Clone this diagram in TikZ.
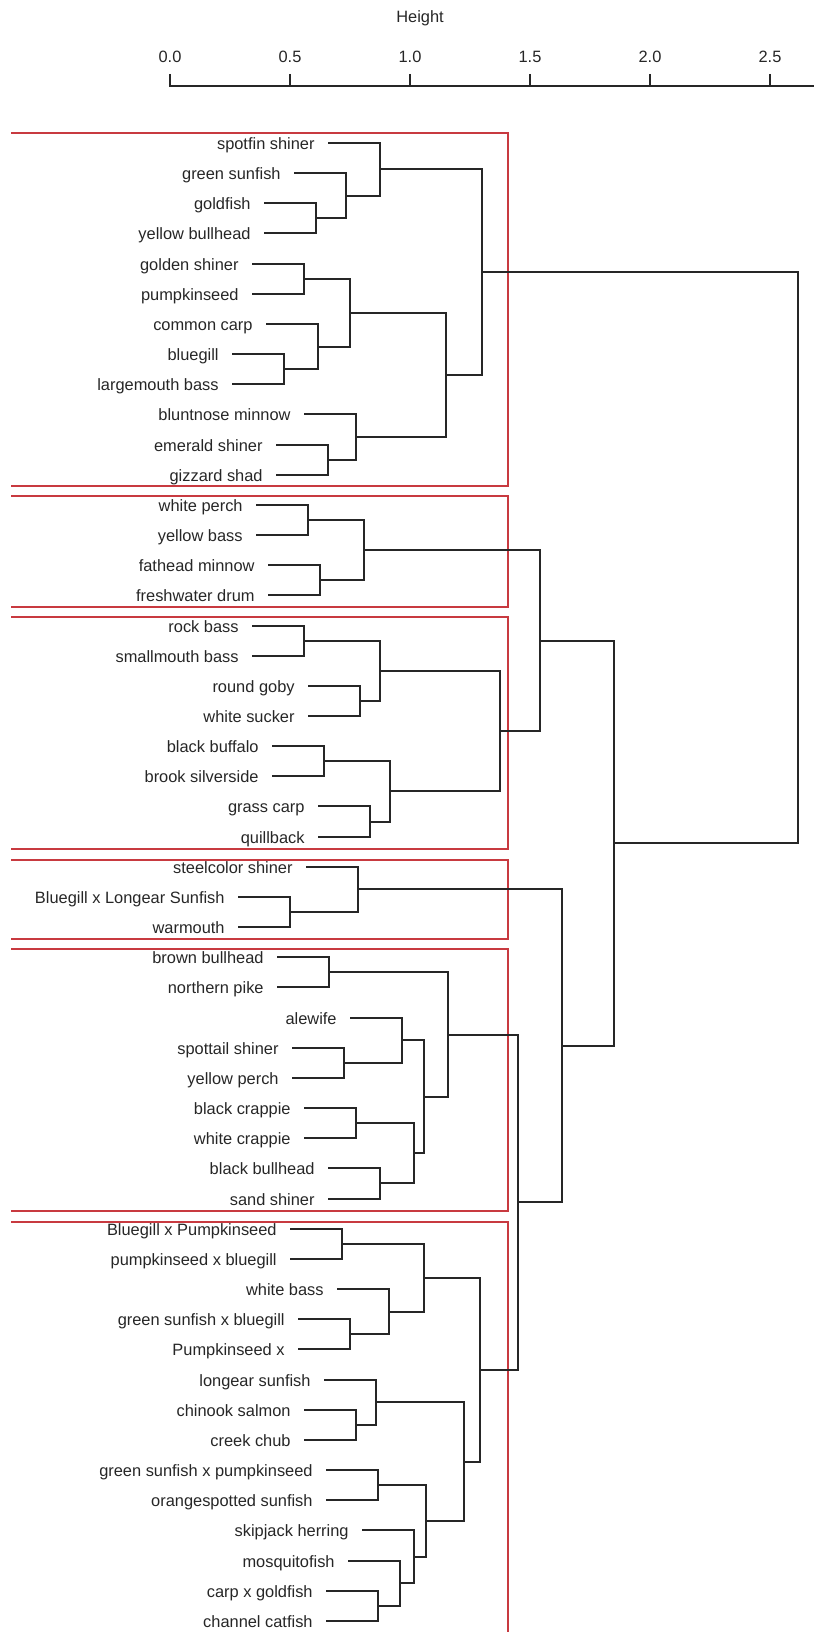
\documentclass[tikz,border=0pt]{standalone}
\usepackage{fontspec}
\setmainfont{Liberation Sans}
\definecolor{boxred}{RGB}{200,58,64}
\definecolor{ink}{RGB}{38,38,38}

\begin{document}
\begin{tikzpicture}[
  x=0.5pt, y=-0.5pt,
  font=\fontsize{8.2}{10}\selectfont,
  fish/.style={anchor=east, inner xsep=6.5pt, inner ysep=0pt, text=ink,
    text height=1.6ex, text depth=0.3ex},
  ticklab/.style={text=ink, inner sep=0pt},
  link/.style={draw=ink, line width=1pt},
  axis/.style={draw=ink, line width=1pt},
  cut/.style={draw=boxred, line width=1pt}
]
\useasboundingbox (0,0) rectangle (814,1632);

% axis
\node[ticklab] (title) at (420,18) {Height};
\node[ticklab] (t0) at (170,57) {0.0};
\node[ticklab] (t1) at (290,57) {0.5};
\node[ticklab] (t2) at (410,57) {1.0};
\node[ticklab] (t3) at (530,57) {1.5};
\node[ticklab] (t4) at (650,57) {2.0};
\node[ticklab] (t5) at (770,57) {2.5};
\draw[axis] (170,74) -- (170,86) -- (814,86)
  (290,74) -- (290,86) (410,74) -- (410,86)
  (530,74) -- (530,86) (650,74) -- (650,86) (770,74) -- (770,86);

% cluster boxes
\draw[cut] (11,133) -- (508,133) -- (508,486) -- (11,486);
\draw[cut] (11,496) -- (508,496) -- (508,607) -- (11,607);
\draw[cut] (11,617) -- (508,617) -- (508,849) -- (11,849);
\draw[cut] (11,860) -- (508,860) -- (508,939) -- (11,939);
\draw[cut] (11,949) -- (508,949) -- (508,1211) -- (11,1211);
\draw[cut] (11,1222) -- (508,1222) -- (508,1632);

% leaves
\node[fish] (f0) at (328,143) {spotfin shiner};
\node[fish] (f1) at (294,173) {green sunfish};
\node[fish] (f2) at (264,203) {goldfish};
\node[fish] (f3) at (264,233) {yellow bullhead};
\node[fish] (f4) at (252,264) {golden shiner};
\node[fish] (f5) at (252,294) {pumpkinseed};
\node[fish] (f6) at (266,324) {common carp};
\node[fish] (f7) at (232,354) {bluegill};
\node[fish] (f8) at (232,384) {largemouth bass};
\node[fish] (f9) at (304,414) {bluntnose minnow};
\node[fish] (f10) at (276,445) {emerald shiner};
\node[fish] (f11) at (276,475) {gizzard shad};
\node[fish] (f12) at (256,505) {white perch};
\node[fish] (f13) at (256,535) {yellow bass};
\node[fish] (f14) at (268,565) {fathead minnow};
\node[fish] (f15) at (268,595) {freshwater drum};
\node[fish] (f16) at (252,626) {rock bass};
\node[fish] (f17) at (252,656) {smallmouth bass};
\node[fish] (f18) at (308,686) {round goby};
\node[fish] (f19) at (308,716) {white sucker};
\node[fish] (f20) at (272,746) {black buffalo};
\node[fish] (f21) at (272,776) {brook silverside};
\node[fish] (f22) at (318,806) {grass carp};
\node[fish] (f23) at (318,837) {quillback};
\node[fish] (f24) at (306,867) {steelcolor shiner};
\node[fish] (f25) at (238,897) {Bluegill x Longear Sunfish};
\node[fish] (f26) at (238,927) {warmouth};
\node[fish] (f27) at (277,957) {brown bullhead};
\node[fish] (f28) at (277,987) {northern pike};
\node[fish] (f29) at (350,1018) {alewife};
\node[fish] (f30) at (292,1048) {spottail shiner};
\node[fish] (f31) at (292,1078) {yellow perch};
\node[fish] (f32) at (304,1108) {black crappie};
\node[fish] (f33) at (304,1138) {white crappie};
\node[fish] (f34) at (328,1168) {black bullhead};
\node[fish] (f35) at (328,1199) {sand shiner};
\node[fish] (f36) at (290,1229) {Bluegill x Pumpkinseed};
\node[fish] (f37) at (290,1259) {pumpkinseed x bluegill};
\node[fish] (f38) at (337,1289) {white bass};
\node[fish] (f39) at (298,1319) {green sunfish x bluegill};
\node[fish] (f40) at (298,1349) {Pumpkinseed x};
\node[fish] (f41) at (324,1380) {longear sunfish};
\node[fish] (f42) at (304,1410) {chinook salmon};
\node[fish] (f43) at (304,1440) {creek chub};
\node[fish] (f44) at (326,1470) {green sunfish x pumpkinseed};
\node[fish] (f45) at (326,1500) {orangespotted sunfish};
\node[fish] (f46) at (362,1530) {skipjack herring};
\node[fish] (f47) at (348,1561) {mosquitofish};
\node[fish] (f48) at (326,1591) {carp x goldfish};
\node[fish] (f49) at (326,1621) {channel catfish};

% merge points
\coordinate (m1) at (316,218);
\coordinate (m2) at (346,196);
\coordinate (m3) at (380,169);
\coordinate (m4) at (304,279);
\coordinate (m5) at (284,369);
\coordinate (m6) at (318,347);
\coordinate (m7) at (350,313);
\coordinate (m8) at (328,460);
\coordinate (m9) at (356,437);
\coordinate (m10) at (446,375);
\coordinate (m11) at (482,272);
\coordinate (m12) at (308,520);
\coordinate (m13) at (320,580);
\coordinate (m14) at (364,550);
\coordinate (m15) at (304,641);
\coordinate (m16) at (360,701);
\coordinate (m17) at (380,671);
\coordinate (m18) at (324,761);
\coordinate (m19) at (370,822);
\coordinate (m20) at (390,791);
\coordinate (m21) at (500,731);
\coordinate (m22) at (540,641);
\coordinate (m23) at (290,912);
\coordinate (m24) at (358,889);
\coordinate (m25) at (329,972);
\coordinate (m26) at (344,1063);
\coordinate (m27) at (402,1040);
\coordinate (m28) at (356,1123);
\coordinate (m29) at (380,1183);
\coordinate (m30) at (414,1153);
\coordinate (m31) at (424,1097);
\coordinate (m32) at (448,1035);
\coordinate (m33) at (342,1244);
\coordinate (m34) at (350,1334);
\coordinate (m35) at (389,1312);
\coordinate (m36) at (424,1278);
\coordinate (m37) at (356,1425);
\coordinate (m38) at (376,1402);
\coordinate (m39) at (378,1485);
\coordinate (m40) at (378,1606);
\coordinate (m41) at (400,1583);
\coordinate (m42) at (414,1557);
\coordinate (m43) at (426,1521);
\coordinate (m44) at (464,1462);
\coordinate (m45) at (480,1370);
\coordinate (m46) at (518,1202);
\coordinate (m47) at (562,1046);
\coordinate (m48) at (614,843);
\coordinate (m49) at (798,558);

% branches
\draw[link] (f2.east) -| (m1) |- (f3.east);
\draw[link] (f1.east) -| (m2) |- (m1);
\draw[link] (f0.east) -| (m3) |- (m2);
\draw[link] (f4.east) -| (m4) |- (f5.east);
\draw[link] (f7.east) -| (m5) |- (f8.east);
\draw[link] (f6.east) -| (m6) |- (m5);
\draw[link] (m4) -| (m7) |- (m6);
\draw[link] (f10.east) -| (m8) |- (f11.east);
\draw[link] (f9.east) -| (m9) |- (m8);
\draw[link] (m7) -| (m10) |- (m9);
\draw[link] (m3) -| (m11) |- (m10);

\draw[link] (f12.east) -| (m12) |- (f13.east);
\draw[link] (f14.east) -| (m13) |- (f15.east);
\draw[link] (m12) -| (m14) |- (m13);
\draw[link] (f16.east) -| (m15) |- (f17.east);
\draw[link] (f18.east) -| (m16) |- (f19.east);
\draw[link] (m15) -| (m17) |- (m16);
\draw[link] (f20.east) -| (m18) |- (f21.east);
\draw[link] (f22.east) -| (m19) |- (f23.east);
\draw[link] (m18) -| (m20) |- (m19);
\draw[link] (m17) -| (m21) |- (m20);
\draw[link] (m14) -| (m22) |- (m21);

\draw[link] (f25.east) -| (m23) |- (f26.east);
\draw[link] (f24.east) -| (m24) |- (m23);

\draw[link] (f27.east) -| (m25) |- (f28.east);
\draw[link] (f30.east) -| (m26) |- (f31.east);
\draw[link] (f29.east) -| (m27) |- (m26);
\draw[link] (f32.east) -| (m28) |- (f33.east);
\draw[link] (f34.east) -| (m29) |- (f35.east);
\draw[link] (m28) -| (m30) |- (m29);
\draw[link] (m27) -| (m31) |- (m30);
\draw[link] (m25) -| (m32) |- (m31);

\draw[link] (f36.east) -| (m33) |- (f37.east);
\draw[link] (f39.east) -| (m34) |- (f40.east);
\draw[link] (f38.east) -| (m35) |- (m34);
\draw[link] (m33) -| (m36) |- (m35);
\draw[link] (f42.east) -| (m37) |- (f43.east);
\draw[link] (f41.east) -| (m38) |- (m37);
\draw[link] (f44.east) -| (m39) |- (f45.east);
\draw[link] (f48.east) -| (m40) |- (f49.east);
\draw[link] (f47.east) -| (m41) |- (m40);
\draw[link] (f46.east) -| (m42) |- (m41);
\draw[link] (m39) -| (m43) |- (m42);
\draw[link] (m38) -| (m44) |- (m43);
\draw[link] (m36) -| (m45) |- (m44);

\draw[link] (m32) -| (m46) |- (m45);
\draw[link] (m24) -| (m47) |- (m46);
\draw[link] (m22) -| (m48) |- (m47);
\draw[link] (m11) -| (m49) |- (m48);

\end{tikzpicture}
\end{document}
